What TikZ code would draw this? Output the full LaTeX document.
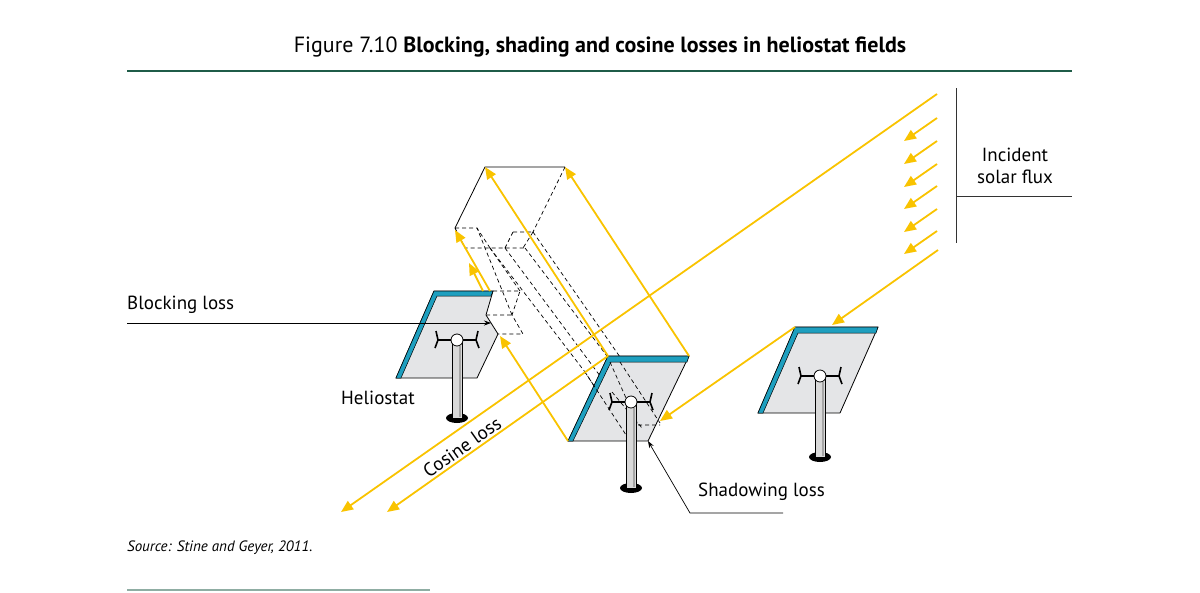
\documentclass[tikz,border=0pt]{standalone}
\usepackage{fontspec}
\setmainfont{PT Sans}
\usetikzlibrary{arrows.meta,calc}
\definecolor{rayc}{HTML}{F9C300}
\definecolor{mirr}{HTML}{1E9FBF}
\definecolor{panel}{HTML}{E4E5E7}
\definecolor{rulec}{HTML}{1F5C48}
\begin{document}
\begin{tikzpicture}[x=1pt,y=-1pt,
  ray/.style={rayc,line width=1.8pt,-{Triangle[length=12pt,width=10pt]}},
  dsh/.style={black,line width=0.7pt,dash pattern=on 4pt off 3pt},
  pnl/.style={fill=panel,draw=black,line width=0.8pt,line join=round},
  strip/.style={fill=mirr,draw=black,line width=0.5pt},
  lbl/.style={font=\fontsize{19}{22}\selectfont,inner sep=0pt},
  lead/.style={black,line width=0.7pt},
  leadarr/.style={lead,-{Stealth[length=7pt,width=5pt]}}]
\useasboundingbox (0,0) rectangle (1200,592);
\newcommand{\pole}[3]{% x, ball y, bottom y
  \fill[black] (#1,#3) ellipse (11 and 5);
  \draw[fill=gray!30,line width=0.7pt] (#1-5,#2) rectangle (#1+5,#3);
  \fill[gray!70] (#1+2,#2+6) rectangle (#1+4,#3-1);
  \draw[line width=1.6pt] (#1-21,#2-9) -- (#1-19,#2) -- (#1-22,#2+8);
  \draw[line width=1.6pt] (#1+21,#2-9) -- (#1+19,#2) -- (#1+22,#2+8);
  \draw[line width=1.3pt] (#1-19,#2) -- (#1+19,#2);
  \draw[fill=white,line width=0.8pt] (#1,#2) circle (6);
}
% title
\node[font=\fontsize{22}{26}\selectfont,inner sep=0pt] (title) at (600,47) {Figure 7.10 \textbf{Blocking, shading and cosine losses in heliostat fields}};
\draw[rulec,line width=2pt] (127,71) -- (1072,71);
\draw[rulec!50,line width=1.5pt] (127,590) -- (430,590);
\node[font=\fontsize{15}{18}\selectfont\itshape,anchor=west,inner sep=0pt] (src) at (127,548) {Source: Stine and Geyer, 2011.};

% coordinates
\coordinate (LTL) at (434,291); \coordinate (LTR) at (493,291);
\coordinate (LN2) at (486,315); \coordinate (LN3) at (498,334);
\coordinate (LBR) at (477,378); \coordinate (LBL) at (396,378);
\coordinate (MTL) at (608,356); \coordinate (MTR) at (689,356);
\coordinate (MBR) at (648,441); \coordinate (MBL) at (568,441);
\coordinate (RTL) at (795,327); \coordinate (RTR) at (878,327);
\coordinate (RBR) at (840,413); \coordinate (RBL) at (758,413);
\coordinate (B1) at (485,167); \coordinate (B2) at (565,167);
\coordinate (B3) at (455,228); \coordinate (B4) at (533,232);

% box top
\draw[line width=0.8pt] (B3) -- (B1) -- (B2);
\draw[dsh] (B2) -- (B4);
\draw[dsh] (B3) -- (477,228) -- (490,248) (B3) -- (465,248) -- (525,248)
  (513,232) -- (B4) (513,232) -- (505,248) (B4) -- (523,248);
% notch block
\draw[dsh] (LTR) -- (520,291) -- (512,315) -- (523,334) -- (LN3) (LN2) -- (512,315);
\draw[dsh] (520,291) -- (490,248) (512,315) -- (477,228);
% long dashed beam lines
\draw[dsh] (490,248) -- (585,372) -- (628,438);
\draw[dsh] (505,248) -- (612,392) -- (642,428);
\draw[dsh] (525,248) -- (610,360) (533,232) -- (620,357);

% left heliostat
\draw[pnl] (LTL) -- (LTR) -- (LN2) -- (LN3) -- (LBR) -- (LBL) -- cycle;
\draw[strip] (LTL) -- (LTR) -- ($(LTR)+(-2,5)$) -- ($(LTL)+(3,5)$) -- ($(LBL)+(5,0)$) -- (LBL) -- cycle;
\pole{457}{340}{418}

% middle heliostat
\draw[pnl] (MTL) -- (MTR) -- (MBR) -- (MBL) -- cycle;
\draw[strip] (MTL) -- (MTR) -- ($(MTR)+(-2,6)$) -- ($(MTL)+(3,6)$) -- ($(MBL)+(5,0)$) -- (MBL) -- cycle;
\draw[dsh] (585,372) -- (628,438) (612,392) -- (642,428) (620,362) -- (660,423) (638,425) -- (660,425) (610,362) -- (638,425);
\pole{631}{402}{488}

% right heliostat
\draw[pnl] (RTL) -- (RTR) -- (RBR) -- (RBL) -- cycle;
\draw[strip] (RTL) -- (RTR) -- ($(RTR)+(-2,6)$) -- ($(RTL)+(3,6)$) -- ($(RBL)+(5,0)$) -- (RBL) -- cycle;
\pole{820}{376}{457}

% rays
\coordinate (A0) at (937,94); \coordinate (A1) at (341,512);
\draw[ray] (A0) -- (A1);
\coordinate (C1) at (387,512);
\draw[ray] (MTL) -- (C1);
\coordinate (D0) at (938,250); \coordinate (D1) at (832,325);
\draw[ray] (D0) -- (D1);
\coordinate (E1) at (660,421);
\draw[ray] (RTL) -- (E1);
\foreach \y [count=\i] in {118,141,164,186,209,231} {
  \coordinate (s\i) at (937,\y);
  \coordinate (t\i) at (904,\y+23);
  \draw[ray] (s\i) -- (t\i);
}
% reflected rays
\draw[ray] (MTR) -- (B2);
\draw[ray] (MTL) -- (B1);
\draw[ray] (MBL) -- (500,336);
\draw[ray] (490,291) -- (455,230);
\draw[ray] (483,291) -- (469,263);

% labels
\node[lbl,anchor=west] (blk) at (127,305) {Blocking loss};
\coordinate (blkA) at (127,323);
\coordinate (blkB) at (491,323);
\draw[leadarr] (blkA) -- (blkB);
\node[lbl] (hel) at (378,398) {Heliostat};
\node[lbl,rotate=35] (cos) at (462,447) {Cosine loss};
\node[lbl,anchor=west] (shd) at (698,492) {Shadowing loss};
\coordinate (shA) at (783,513); \coordinate (shB) at (690,513);
\draw[leadarr] (shA) -- (shB) -- (MBR);
\node[lbl,align=center] (inc) at (1015,166) {Incident\\solar flux};
\coordinate (v1) at (956,88); \coordinate (v2) at (956,243);
\coordinate (h2) at (1072,196);
\draw[line width=0.8pt,black!80] (v1) -- (v2);
\draw[line width=0.8pt,black!80] (956,196) -- (h2);
\end{tikzpicture}
\end{document}
